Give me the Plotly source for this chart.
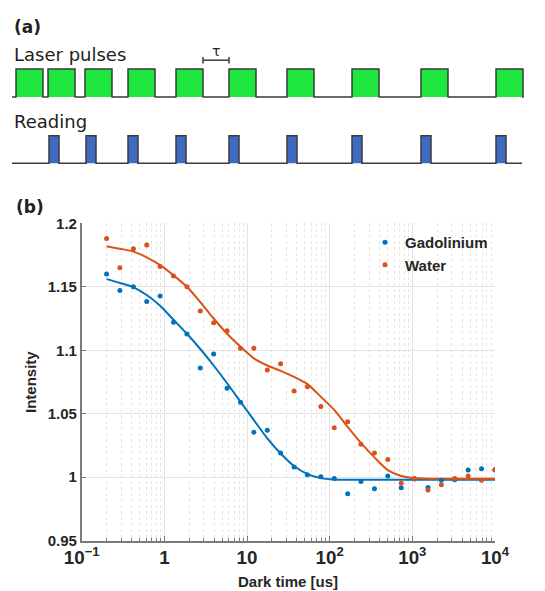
import plotly.graph_objects as go

# ---------------- data: panel (b) ----------------
dark_time = [0.2, 0.29, 0.422, 0.612, 0.889, 1.29, 1.875, 2.72, 3.95, 5.74,
             8.34, 12.1, 17.6, 25.5, 37.1, 53.8, 78.2, 113.5, 165, 239,
             348, 505, 733, 1064, 1545, 2244, 3258, 4732, 6871, 10000]

gadolinium = [1.160, 1.147, 1.150, 1.1385, 1.1427, 1.122, 1.1128, 1.086, 1.097, 1.070,
              1.059, 1.0355, 1.037, 1.019, 1.008, 1.002, 1.0003, 0.999, 0.987, 0.9967,
              0.991, 1.001, 0.9917, 0.9985, 0.992, 0.9977, 0.998, 1.0056, 1.0066, 1.0056]

water = [1.188, 1.165, 1.180, 1.183, 1.166, 1.1585, 1.150, 1.131, 1.1217, 1.1154,
         1.1015, 1.1015, 1.0844, 1.0894, 1.068, 1.0713, 1.0558, 1.039, 1.0437, 1.026,
         1.019, 1.014, 0.9952, 0.999, 0.990, 0.994, 0.999, 1.001, 0.9977, 1.006]

gadolinium_fit = [1.156, 1.153, 1.1496, 1.1435, 1.135, 1.124, 1.113, 1.101, 1.088, 1.074,
                  1.0594, 1.045, 1.0306, 1.0187, 1.0088, 1.0024, 0.9993, 0.9982, 0.998, 0.998,
                  0.998, 0.998, 0.998, 0.998, 0.998, 0.998, 0.998, 0.998, 0.998, 0.998]

water_fit = [1.182, 1.180, 1.1777, 1.1732, 1.167, 1.159, 1.150, 1.138, 1.125, 1.113,
             1.1028, 1.0936, 1.088, 1.0838, 1.079, 1.0733, 1.0634, 1.053, 1.0397, 1.027,
             1.0156, 1.0056, 1.001, 0.9993, 0.9988, 0.9988, 0.9988, 0.9988, 0.9988, 0.9988]

y_ticks = [0.95, 1.0, 1.05, 1.1, 1.15, 1.2]
y_ticklabels = ["0.95", "1", "1.05", "1.1", "1.15", "1.2"]

# ---------------- data: panel (a) timing schematic ----------------
laser_starts = [16, 48, 85, 128, 176, 229, 287, 352, 421, 496]
laser_width = 27
reading_starts = [49, 86, 128, 176, 229, 287, 352, 421, 496]
reading_width = 10

BLUE = "#0072BD"
ORANGE = "#D95319"
GREEN = "#1EE83E"
READ_BLUE = "#4069C2"
EDGE = "#3a3a3a"

# page offset (default body margin) and figure size
OFF = 8
W, H = 545 - OFF, 591 - OFF


def px(p):
    """screen x pixel -> paper fraction"""
    return (p - OFF) / W


def py(p):
    """screen y pixel -> paper fraction"""
    return (H - (p - OFF)) / H


# schematic levels (screen-pixel-like units on the schematic axis)
LASER_BASE, LASER_TOP = 97, 69
READ_BASE, READ_TOP = 163.3, 135.7
X_START, X_END = 12, 522


def waveform(starts, width, base, top):
    xs, ys = [X_START], [base]
    for s in starts:
        xs += [s, s, s + width, s + width]
        ys += [base, top, top, base]
    xs.append(X_END)
    ys.append(base)
    return xs, ys


fig = go.Figure()

lx, ly = waveform(laser_starts, laser_width, LASER_BASE, LASER_TOP)
fig.add_trace(go.Scatter(x=lx, y=ly, mode="lines", fill="toself", fillcolor=GREEN,
                         line=dict(color=EDGE, width=1.5), xaxis="x2", yaxis="y2",
                         showlegend=False, hoverinfo="skip"))
rx, ry = waveform(reading_starts, reading_width, READ_BASE, READ_TOP)
fig.add_trace(go.Scatter(x=rx, y=ry, mode="lines", fill="toself", fillcolor=READ_BLUE,
                         line=dict(color=EDGE, width=1.5), xaxis="x2", yaxis="y2",
                         showlegend=False, hoverinfo="skip"))

# tau bracket between pulse 5 and pulse 6
a = laser_starts[4] + laser_width
b = laser_starts[5]
fig.add_trace(go.Scatter(x=[a, a, None, a, b, None, b, b],
                         y=[57, 63.5, None, 60.2, 60.2, None, 57, 63.5],
                         mode="lines", line=dict(color=EDGE, width=1.5),
                         xaxis="x2", yaxis="y2", showlegend=False, hoverinfo="skip"))

# panel (b) fits and data
fig.add_trace(go.Scatter(x=dark_time, y=gadolinium_fit, mode="lines",
                         line=dict(color=BLUE, width=2, shape="spline", smoothing=0.6),
                         showlegend=False))
fig.add_trace(go.Scatter(x=dark_time, y=water_fit, mode="lines",
                         line=dict(color=ORANGE, width=2, shape="spline", smoothing=0.6),
                         showlegend=False))
fig.add_trace(go.Scatter(x=dark_time, y=gadolinium, mode="markers", name="Gadolinium",
                         marker=dict(color=BLUE, size=5)))
fig.add_trace(go.Scatter(x=dark_time, y=water, mode="markers", name="Water",
                         marker=dict(color=ORANGE, size=5)))

X0, X1 = 81.7, 495.0          # plot area left/right (screen px)
Y0, Y1 = 223.3, 540.7         # plot area top/bottom (screen px)
TICKFONT = dict(family="Liberation Sans, Arial, sans-serif", size=15, color="#262626", weight="bold")

fig.update_layout(
    width=W, height=H,
    margin=dict(l=0, r=0, t=0, b=0, autoexpand=False),
    paper_bgcolor="white", plot_bgcolor="white",
    xaxis=dict(
        type="log", range=[-1, 4], domain=[px(X0), px(X1)], anchor="y",
        automargin=False,
        dtick=1, exponentformat="power", showexponent="all",
        showline=True, linecolor="#7a7a7a", linewidth=1.5,
        ticks="inside", ticklen=5, tickcolor="#7a7a7a",
        showgrid=True, gridcolor="#e3e3e3", gridwidth=1,
        minor=dict(dtick="D1", showgrid=True, gridcolor="#e4e4e4", griddash="dot",
                   ticks="inside", ticklen=3, tickcolor="#7a7a7a"),
        zeroline=False, tickfont=TICKFONT,
    ),
    yaxis=dict(
        range=[0.95, 1.2], domain=[py(Y1), py(Y0)], anchor="x",
        automargin=False,
        tickvals=y_ticks, ticktext=y_ticklabels,
        showline=True, linecolor="#7a7a7a", linewidth=1.5,
        ticks="inside", ticklen=5, tickcolor="#7a7a7a",
        showgrid=True, gridcolor="#e3e3e3", gridwidth=1,
        zeroline=False, tickfont=TICKFONT,
    ),
    # schematic axis: units are screen pixels
    xaxis2=dict(range=[OFF, OFF + W], domain=[0, 1], anchor="y2", visible=False,
                fixedrange=True, automargin=False),
    yaxis2=dict(range=[200, OFF], domain=[py(200), 1], anchor="x2", visible=False,
                fixedrange=True, automargin=False),
    legend=dict(x=px(365), y=py(226), xanchor="left", yanchor="top",
                bgcolor="rgba(0,0,0,0)", borderwidth=0,
                font=dict(family="Liberation Sans, Arial, sans-serif", size=15,
                          color="#262626", weight="bold"),
                tracegroupgap=0),
    showlegend=True,
)

TITLEFONT = dict(family="Liberation Sans, Arial, sans-serif", size=15, color="#262626", weight="bold")
fig.add_annotation(x=px((X0 + X1) / 2), y=py(581), xref="paper", yref="paper",
                   text="Dark time [us]", showarrow=False, xanchor="center", yanchor="middle",
                   font=TITLEFONT)
fig.add_annotation(x=px(30), y=py((Y0 + Y1) / 2), xref="paper", yref="paper",
                   text="Intensity", showarrow=False, xanchor="center", yanchor="middle",
                   textangle=-90, font=TITLEFONT)

ANN_FONT = dict(family="DejaVu Sans, sans-serif", size=18, color="#222222")
fig.add_annotation(x=px(12), y=py(55), xref="paper", yref="paper", text="Laser pulses",
                   showarrow=False, xanchor="left", yanchor="middle", font=ANN_FONT)
fig.add_annotation(x=px(12), y=py(122), xref="paper", yref="paper", text="Reading",
                   showarrow=False, xanchor="left", yanchor="middle", font=ANN_FONT)
fig.add_annotation(x=(a + b) / 2, y=51, xref="x2", yref="y2", text="τ",
                   showarrow=False, xanchor="center", yanchor="middle",
                   font=dict(family="DejaVu Sans, sans-serif", size=14, color="#222222"))
fig.add_annotation(x=px(12), y=py(27), xref="paper", yref="paper", text="(a)",
                   showarrow=False, xanchor="left", yanchor="middle",
                   font=dict(family="DejaVu Sans, sans-serif", size=17, color="#222222",
                             weight="bold"))
fig.add_annotation(x=px(14), y=py(207), xref="paper", yref="paper", text="(b)",
                   showarrow=False, xanchor="left", yanchor="middle",
                   font=dict(family="DejaVu Sans, sans-serif", size=17, color="#222222",
                             weight="bold"))

fig.write_html("out.html")
